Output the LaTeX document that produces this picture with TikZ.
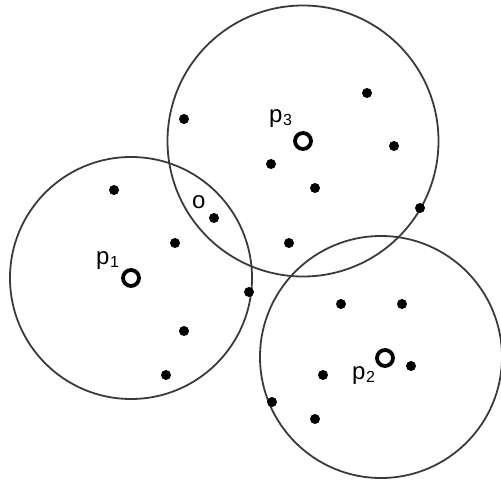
\documentclass[tikz,border=0pt]{standalone}
\usepackage{fontspec}
\setmainfont{Liberation Sans}
\usetikzlibrary{positioning}
\definecolor{ringGrey}{RGB}{58,58,58}
\newcommand{\idx}[1]{{\fontsize{16}{16}\selectfont\kern0.5pt\raisebox{-3pt}{#1}}}
\tikzset{
    ring/.style={draw=ringGrey, line width=1.8pt},
    pt/.style={circle, fill=black, inner sep=0pt, minimum size=10pt},
    centre/.style={circle, draw=black, line width=3.8pt, inner sep=0pt, minimum size=16pt},
    tag/.style={inner sep=0pt, anchor=base west, font=\fontsize{24}{28}\selectfont}
}
\begin{document}
\begin{tikzpicture}[x=1pt, y=-1pt]
    \useasboundingbox (0,0) rectangle (501,481);

    % cluster centres
    \node[centre] (p1) at (131,278) {};
    \node[centre] (p2) at (385,358) {};
    \node[centre] (p3) at (303,141) {};

    % cluster borders
    \draw[ring] (p1.center) circle (121);
    \draw[ring] (381,357) circle (121);
    \draw[ring] (p3.center) circle (135.5);

    \node[tag] (l1) at (96,265) {p\idx{1}};
    \node[tag] (l2) at (352,379) {p\idx{2}};
    \node[tag] (l3) at (269,123) {p\idx{3}};
    \node[tag] (lo) at (192,209) {o};

    % points
    \node[pt] (o) at (214,218) {};
    \node[pt] (a1) at (114,190) {};
    \node[pt] (a2) at (175,243) {};
    \node[pt] (a3) at (249,292) {};
    \node[pt] (a4) at (184,331) {};
    \node[pt] (a5) at (166,375) {};
    \node[pt] (b1) at (341,304) {};
    \node[pt] (b2) at (402,304) {};
    \node[pt] (b3) at (411,366) {};
    \node[pt] (b4) at (323,375) {};
    \node[pt] (b5) at (272,402) {};
    \node[pt] (b6) at (315,419) {};
    \node[pt] (c1) at (184,119) {};
    \node[pt] (c2) at (367,93) {};
    \node[pt] (c3) at (394,146) {};
    \node[pt] (c4) at (271,164) {};
    \node[pt] (c5) at (315,188) {};
    \node[pt] (c6) at (420,208) {};
    \node[pt] (c7) at (289,243) {};
\end{tikzpicture}
\end{document}
